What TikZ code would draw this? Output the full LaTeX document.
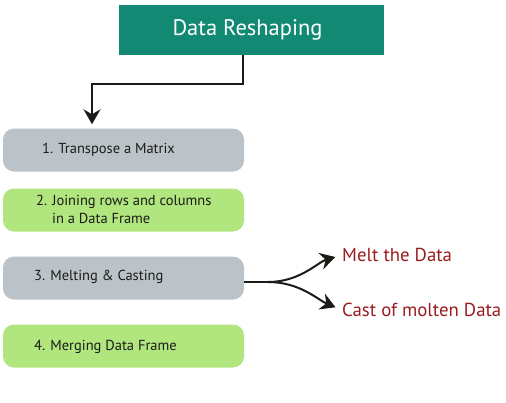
\documentclass[tikz,border=0pt]{standalone}
\usepackage{fontspec}
\setmainfont{PT Sans}
\usetikzlibrary{arrows.meta,positioning,calc}
\definecolor{teal1}{HTML}{128A73}
\definecolor{gray1}{HTML}{BCC3C8}
\definecolor{green1}{HTML}{B1E57D}
\definecolor{red1}{HTML}{9A1C20}
\definecolor{ink}{HTML}{1A1C18}
\tikzset{
  titlebox/.style={fill=teal1, draw=none, minimum width=265pt, minimum height=50pt, inner sep=0pt, text=white, font=\fontsize{22.5}{26}\selectfont},
  stepbox/.style={draw=none, rounded corners=11pt, minimum width=241pt, minimum height=43pt, inner sep=0pt},
  graybox/.style={stepbox, fill=gray1},
  greenbox/.style={stepbox, fill=green1},
  txt/.style={anchor=west, inner sep=0pt, text=ink, font=\fontsize{14.5}{18}\selectfont, align=left},
  lbl/.style={anchor=west, inner sep=0pt, text=red1, font=\fontsize{18.8}{22}\selectfont},
  conn/.style={draw=ink, line width=2pt, -{Stealth[length=15pt,width=17pt,inset=5pt]}},
}
\begin{document}
\begin{tikzpicture}[x=1pt,y=-1pt]
\useasboundingbox (0,0) rectangle (506,402);
\node[titlebox] (title) at (251.5,30) {Data Reshaping\hspace*{8pt}};
\node[graybox]  (b1) at (123.5,150) {};
\node[greenbox] (b2) at (123.5,210) {};
\node[graybox]  (b3) at (123.5,278) {};
\node[greenbox] (b4) at (123.5,346) {};
\node[txt] (t1) at (42,150) {1. Transpose a Matrix};
\node[txt] (t2) at (36,209) {2. Joining rows and columns\\\hspace*{16pt}in a Data Frame};
\node[txt] (t3) at (34,277) {3. Melting \& Casting};
\node[txt] (t4) at (34,347) {4. Merging Data Frame};
\node[lbl] (m1) at (342,255) {Melt the Data};
\node[lbl] (m2) at (342,310) {Cast of molten Data};
\coordinate (bend) at (92,84);
\coordinate (split) at (268,282);
\draw[conn, shorten >=4pt] ([xshift=-8.5pt]title.south) |- (bend) -- (bend |- b1.north);
\draw[draw=ink, line width=2pt] (b3.east |- split) -- (split);
\draw[conn, shorten >=7pt] (split) .. controls (300,282) and (318,262) .. (m1.west);
\draw[conn, shorten >=7pt] (split) .. controls (300,282) and (318,300) .. (m2.west);
\end{tikzpicture}
\end{document}
